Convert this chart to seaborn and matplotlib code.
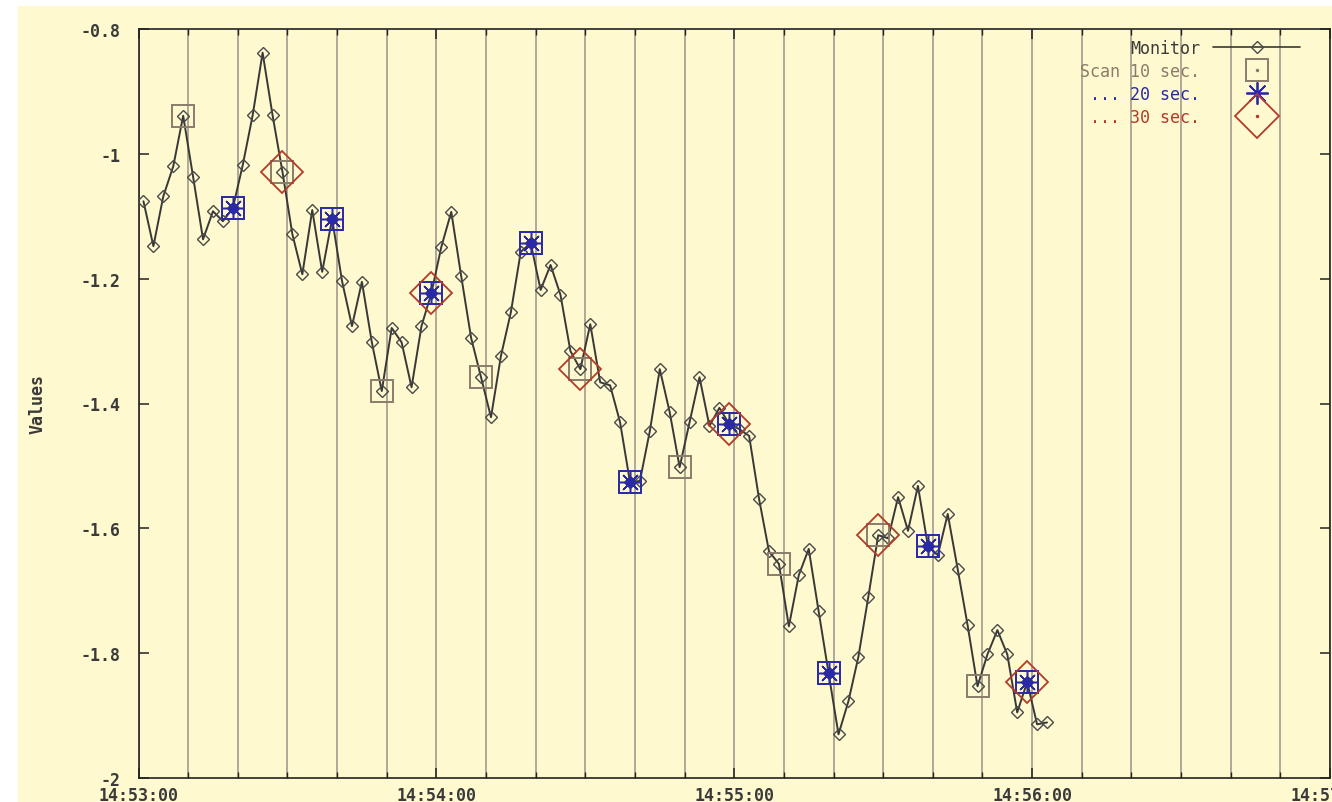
import matplotlib
matplotlib.use("Agg")
import matplotlib.pyplot as plt
import matplotlib.dates as mdates
from matplotlib.lines import Line2D
from matplotlib.patches import Rectangle
from matplotlib.ticker import FixedLocator, FuncFormatter
import pandas as pd
import seaborn as sns

# ---- data -------------------------------------------------------------
DAY = "2000-01-01"
START = "14:53:00"
END = "14:57:00"

# monitor readings (seconds after 14:53:00, value)
monitor_sec = [1, 3, 5, 7, 9, 11, 13, 15, 17, 19,
               21, 23, 25, 27, 29, 31, 33, 35, 37, 39,
               41, 43, 45, 47, 49, 51, 53, 55, 57, 59,
               61, 63, 65, 67, 69, 71, 73, 75, 77, 79,
               81, 83, 85, 87, 89, 91, 93, 95, 97, 99,
               101, 103, 105, 107, 109, 111, 113, 115, 117, 119,
               121, 123, 125, 127, 129, 131, 133, 135, 137, 139,
               141, 143, 145, 147, 149, 151, 153, 155, 157, 159,
               161, 163, 165, 167, 169, 171, 173, 175, 177, 179,
               181, 183]
monitor_val = [-1.076, -1.148, -1.068, -1.020, -0.939, -1.037, -1.137, -1.092, -1.108, -1.087,
               -1.018, -0.938, -0.838, -0.938, -1.029, -1.129, -1.193, -1.090, -1.189, -1.104,
               -1.204, -1.276, -1.205, -1.302, -1.380, -1.279, -1.302, -1.374, -1.276, -1.223,
               -1.149, -1.093, -1.196, -1.295, -1.358, -1.422, -1.324, -1.254, -1.157, -1.143,
               -1.218, -1.178, -1.226, -1.316, -1.345, -1.273, -1.366, -1.371, -1.430, -1.526,
               -1.524, -1.444, -1.345, -1.414, -1.502, -1.430, -1.358, -1.436, -1.407, -1.433,
               -1.441, -1.452, -1.553, -1.637, -1.657, -1.757, -1.675, -1.633, -1.733, -1.832,
               -1.930, -1.877, -1.806, -1.710, -1.611, -1.616, -1.550, -1.604, -1.532, -1.628,
               -1.643, -1.577, -1.665, -1.755, -1.853, -1.802, -1.763, -1.802, -1.895, -1.846,
               -1.914, -1.911]

# scans every 10 s
scan10_sec = [9, 19, 29, 39, 49, 59, 69, 79, 89, 99, 109, 119, 129, 139, 149, 159, 169, 179]
scan10_val = [-0.939, -1.087, -1.029, -1.104, -1.380, -1.223, -1.358, -1.143, -1.345,
              -1.526, -1.502, -1.433, -1.657, -1.832, -1.611, -1.628, -1.853, -1.846]
# scans every 20 s
scan20_sec = [19, 39, 59, 79, 99, 119, 139, 159, 179]
scan20_val = [-1.087, -1.104, -1.223, -1.143, -1.526, -1.433, -1.832, -1.628, -1.846]
# scans every 30 s
scan30_sec = [29, 59, 89, 119, 149, 179]
scan30_val = [-1.029, -1.223, -1.345, -1.433, -1.611, -1.846]

y_ticks = [-0.8, -1.0, -1.2, -1.4, -1.6, -1.8, -2.0]
x_tick_labels = ["14:53:00", "14:54:00", "14:55:00", "14:56:00", "14:57:00"]
legend_labels = ["Monitor", "Scan 10 sec.", "... 20 sec.", "... 30 sec."]
y_label = "Values"

# ---- style ------------------------------------------------------------
BG = "#FEF9CE"
INK = "#3a3a3a"
GRID = "#a8a291"
C_MON = "#383838"
C_S10 = "#8a7c6c"
C_S20 = "#2a2aa8"
C_S30 = "#b23c2c"
FS = 12

sns.set_style("ticks")
plt.rcParams["font.family"] = ["DejaVu Sans Mono", "DejaVu Sans"]
plt.rcParams["font.size"] = FS
plt.rcParams["font.weight"] = "bold"

t0 = pd.Timestamp(f"{DAY} {START}")


def to_time(secs):
    return t0 + pd.to_timedelta(secs, unit="s")


fig = plt.figure(figsize=(13.32, 8.03), dpi=100, facecolor="white")
fig.patches.append(Rectangle((18 / 1332, 0), 1, 1 - 7 / 803,
                             transform=fig.transFigure, color=BG, zorder=-10))
ax = fig.add_axes([138.5 / 1332, 1 - 779 / 803, (1330 - 138.5) / 1332, (779 - 30) / 803])
ax.set_facecolor(BG)

# monitor trace
sns.lineplot(x=to_time(monitor_sec), y=monitor_val, ax=ax, estimator=None, sort=False,
             color=C_MON, lw=1.4, marker="D", markersize=6.2,
             markerfacecolor="none", markeredgecolor="#4a4a4a", markeredgewidth=1.0,
             zorder=3)

# 10 s scans
sns.lineplot(x=to_time(scan10_sec), y=scan10_val, ax=ax, estimator=None, sort=False,
             linestyle="none", marker="s", markersize=16,
             markerfacecolor="none", markeredgecolor=C_S10, markeredgewidth=1.4,
             zorder=4)

# 20 s scans
sns.lineplot(x=to_time(scan20_sec), y=scan20_val, ax=ax, estimator=None, sort=False,
             linestyle="none", marker="s", markersize=16.5,
             markerfacecolor="none", markeredgecolor=C_S20, markeredgewidth=1.4,
             zorder=5)
sns.lineplot(x=to_time(scan20_sec), y=scan20_val, ax=ax, estimator=None, sort=False,
             linestyle="none", marker=(8, 2, 0), markersize=15,
             markeredgecolor=C_S20, markeredgewidth=1.1, zorder=5)
sns.lineplot(x=to_time(scan20_sec), y=scan20_val, ax=ax, estimator=None, sort=False,
             linestyle="none", marker="o", markersize=7,
             markerfacecolor=C_S20, markeredgecolor=C_S20, markeredgewidth=0.5,
             zorder=5)

# 30 s scans
sns.lineplot(x=to_time(scan30_sec), y=scan30_val, ax=ax, estimator=None, sort=False,
             linestyle="none", marker="D", markersize=21.5,
             markerfacecolor="none", markeredgecolor=C_S30, markeredgewidth=1.3,
             zorder=6)

# ---- axes -------------------------------------------------------------
ax.set_xlim(to_time(0), pd.Timestamp(f"{DAY} {END}"))
ax.set_ylim(min(y_ticks), max(y_ticks))

major_x = [pd.Timestamp(f"{DAY} {s}") for s in x_tick_labels]
ax.xaxis.set_major_locator(FixedLocator(mdates.date2num(major_x)))
ax.xaxis.set_major_formatter(FuncFormatter(
    lambda v, p: x_tick_labels[p] if p is not None and p < len(x_tick_labels)
    else mdates.num2date(v).strftime("%H:%M:%S")))
ax.xaxis.set_minor_locator(mdates.SecondLocator(bysecond=[10, 20, 30, 40, 50]))

ax.set_yticks(y_ticks)
ax.yaxis.set_major_formatter(FuncFormatter(lambda v, p: f"{v:g}"))

ax.grid(True, axis="x", which="both", color=GRID, lw=1.3, zorder=1)
ax.grid(False, axis="y")
ax.set_axisbelow(True)

ax.tick_params(axis="both", which="major", direction="in", length=7, width=1.1,
               color="#222222", labelcolor=INK, labelsize=FS,
               top=True, right=True)
ax.tick_params(axis="x", which="minor", direction="in", length=4, width=1.0,
               color="#222222", top=True, bottom=True)
ax.tick_params(axis="y", which="major", pad=13)
ax.tick_params(axis="x", which="major", pad=6)

for sp in ax.spines.values():
    sp.set_color("#222222")
    sp.set_linewidth(1.2)

ax.set_xlabel("")
ax.set_ylabel(y_label, color=INK, fontsize=FS, fontweight="bold")
ax.yaxis.set_label_coords(-0.077, 0.5)

# ---- legend -----------------------------------------------------------
h_mon = Line2D([], [], color=C_MON, lw=1.2, marker="D", markersize=6.2,
               markerfacecolor="none", markeredgecolor="#4a4a4a", markeredgewidth=1.0)
h_s10 = (Line2D([], [], linestyle="none", marker="s", markersize=16,
                markerfacecolor="none", markeredgecolor=C_S10, markeredgewidth=1.4),
         Line2D([], [], linestyle="none", marker="o", markersize=1.5, color=C_S10))
h_s20 = (Line2D([], [], linestyle="none", marker=(8, 2, 0), markersize=16,
                markeredgecolor=C_S20, markeredgewidth=1.3),
         Line2D([], [], linestyle="none", marker="o", markersize=3, color=C_S20))
h_s30 = (Line2D([], [], linestyle="none", marker="D", markersize=22,
                markerfacecolor="none", markeredgecolor=C_S30, markeredgewidth=1.3),
         Line2D([], [], linestyle="none", marker="o", markersize=1.5, color=C_S30))

leg = ax.legend([h_mon, h_s10, h_s20, h_s30], legend_labels,
                loc="upper right", bbox_to_anchor=(0.9748, 0.987),
                frameon=False, markerfirst=False, borderpad=0, borderaxespad=0,
                handlelength=5.2, handletextpad=0.78, labelspacing=0.3,
                fontsize=FS)
for txt, col in zip(leg.get_texts(), [INK, C_S10, C_S20, C_S30]):
    txt.set_color(col)
    txt.set_fontweight("normal")

fig.savefig("out.png", dpi=100, facecolor=fig.get_facecolor())
